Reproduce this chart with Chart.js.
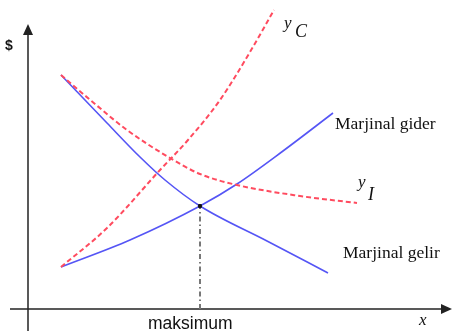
<!DOCTYPE html>
<html>
<head>
<meta charset="utf-8">
<script src="https://cdn.jsdelivr.net/npm/chart.js@4.4.1/dist/chart.umd.min.js"></script>
<style>
html,body{margin:0;padding:0;background:#fff;}
#wrap{width:452px;height:331px;position:relative;}
</style>
</head>
<body>
<div id="wrap"><canvas id="c"></canvas></div>
<script>
// Data (x: quantity, y: $), origin at the axis crossing
const yC_x = [33, 79, 132, 160, 192, 222, 246];
const yC_y = [42, 81, 139, 169, 209, 257, 299];
const yI_x = [33, 67, 99, 142, 172, 209, 272, 329];
const yI_y = [234, 205, 179, 151, 135, 124, 113, 106];
const gider_x = [33, 102, 172, 209, 255, 305];
const gider_y = [42, 69, 103, 125, 158, 196];
const gelir_x = [33, 79, 112, 137, 172, 239, 300];
const gelir_y = [234, 186, 152, 129, 103, 68, 36];
const optimum_x = [172];
const optimum_y = [103];

const zip = (xs, ys) => xs.map((x, i) => ({x: x, y: ys[i]}));

const BLUE = 'rgb(85,85,245)';
const RED = 'rgb(255,75,95)';

const axesPlugin = {
  id: 'axesArrows',
  beforeDatasetsDraw(chart) {
    const ctx = chart.ctx, xs = chart.scales.x, ys = chart.scales.y;
    const ox = xs.getPixelForValue(0), oy = ys.getPixelForValue(0);
    ctx.save();
    ctx.strokeStyle = '#222'; ctx.fillStyle = '#222'; ctx.lineWidth = 1.5;
    // x axis
    ctx.beginPath(); ctx.moveTo(ox - 18, oy); ctx.lineTo(chart.width - 8, oy); ctx.stroke();
    ctx.beginPath(); ctx.moveTo(chart.width, oy); ctx.lineTo(chart.width - 11, oy - 5); ctx.lineTo(chart.width - 11, oy + 5); ctx.closePath(); ctx.fill();
    // y axis
    const tip = ys.getPixelForValue(285);
    ctx.beginPath(); ctx.moveTo(ox, chart.height); ctx.lineTo(ox, tip + 8); ctx.stroke();
    ctx.beginPath(); ctx.moveTo(ox, tip); ctx.lineTo(ox - 5, tip + 11); ctx.lineTo(ox + 5, tip + 11); ctx.closePath(); ctx.fill();
    ctx.restore();
  },
  afterDatasetsDraw(chart) {
    const ctx = chart.ctx, xs = chart.scales.x, ys = chart.scales.y;
    const P = (x, y) => [xs.getPixelForValue(x), ys.getPixelForValue(y)];
    const txt = (s, x, y, font) => { const p = P(x, y); ctx.font = font; ctx.fillText(s, p[0], p[1]); };
    ctx.save();
    ctx.fillStyle = '#111'; ctx.textBaseline = 'alphabetic'; ctx.textAlign = 'left';
    const serif = '"Liberation Serif", "DejaVu Serif", serif';
    const sans = '"Liberation Sans", Arial, sans-serif';
    txt('$', -23, 259, 'bold 14px ' + sans);
    txt('y', 256, 281, 'italic 17px ' + serif);
    txt('C', 267, 272, 'italic 18px ' + serif);
    txt('Marjinal gider', 307, 180, '17.5px ' + serif);
    txt('y', 330, 122, 'italic 17px ' + serif);
    txt('I', 340, 109, 'italic 18px ' + serif);
    txt('Marjinal gelir', 315, 51, '17.5px ' + serif);
    txt('maksimum', 120, -20, '17.5px ' + sans);
    txt('x', 391, -16, 'italic 17px ' + serif);
    ctx.restore();
  }
};

new Chart(document.getElementById('c'), {
  type: 'line',
  data: {
    datasets: [
      { label: 'optimum', data: zip(optimum_x, optimum_y), showLine: false, pointRadius: 2, pointStyle: 'rect', pointBackgroundColor: '#111', pointBorderColor: '#111', order: 0 },
      { label: 'maksimum', data: [{x: optimum_x[0], y: 0}, {x: optimum_x[0], y: optimum_y[0]}], borderColor: '#777', borderWidth: 2, borderDash: [5, 3, 1.5, 3], pointRadius: 0, order: 5 },
      { label: 'y_C', data: zip(yC_x, yC_y), borderColor: RED, borderWidth: 2, borderDash: [5, 3], pointRadius: 0, cubicInterpolationMode: 'monotone', order: 1 },
      { label: 'y_I', data: zip(yI_x, yI_y), borderColor: RED, borderWidth: 2, borderDash: [5, 3], pointRadius: 0, cubicInterpolationMode: 'monotone', order: 2 },
      { label: 'Marjinal gider', data: zip(gider_x, gider_y), borderColor: BLUE, borderWidth: 1.6, pointRadius: 0, cubicInterpolationMode: 'monotone', order: 3 },
      { label: 'Marjinal gelir', data: zip(gelir_x, gelir_y), borderColor: BLUE, borderWidth: 1.6, pointRadius: 0, cubicInterpolationMode: 'monotone', order: 4 }
    ]
  },
  options: {
    responsive: true,
    maintainAspectRatio: false,
    animation: false,
    layout: { autoPadding: false, padding: { left: 28, right: 0, top: 0, bottom: 22 } },
    scales: {
      x: { type: 'linear', min: 0, max: 424, display: false },
      y: { type: 'linear', min: 0, max: 309, display: false }
    },
    plugins: { legend: { display: false }, tooltip: { enabled: false } },
    elements: { line: { fill: false } },
    clip: false
  },
  plugins: [axesPlugin]
});
</script>
</body>
</html>
